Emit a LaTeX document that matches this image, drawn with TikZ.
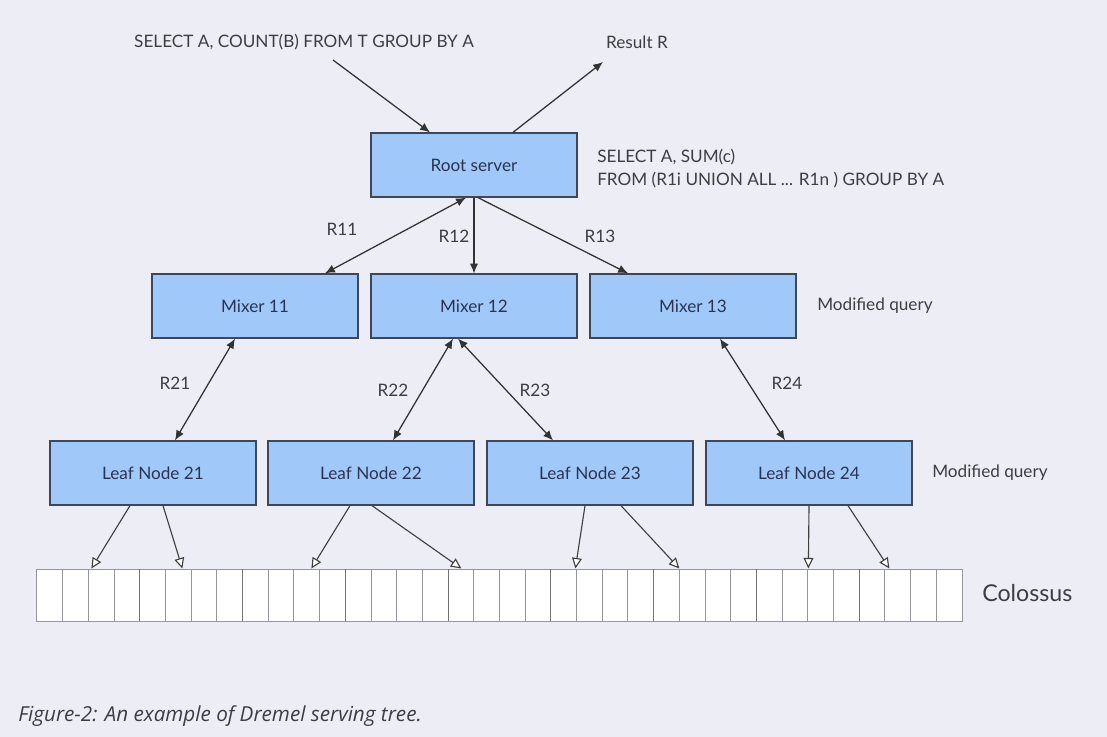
\documentclass[tikz,border=0pt]{standalone}
\usepackage{fontspec}
\setmainfont{Lato}
\newfontfamily\capfont{Open Sans}
\usepackage{tikz}
\usetikzlibrary{arrows.meta,calc}
\usepackage{xcolor}
\definecolor{paper}{RGB}{237,237,245}
\definecolor{boxblue}{RGB}{160,201,250}
\definecolor{boxedge}{RGB}{62,70,88}
\definecolor{boxtext}{RGB}{42,52,82}
\definecolor{labelgray}{RGB}{62,62,66}
\definecolor{cellgray}{RGB}{150,150,156}
\tikzset{%
    server/.style={%
        draw=boxedge, line width=0.9pt, fill=boxblue, text=boxtext,
        minimum width=5.15cm, minimum height=1.6cm, inner sep=0pt,
        font=\fontsize{12.2}{14}\selectfont
    },
    lbl/.style={text=labelgray, font=\fontsize{12.2}{16.3}\selectfont, inner sep=0pt},
    link/.style={draw=black!80, line width=0.9pt, -{Latex[length=7pt,width=6pt]}},
    both/.style={draw=black!80, line width=0.9pt, {Latex[length=7pt,width=6pt]}-{Latex[length=7pt,width=6pt]}},
    scan/.style={draw=black!75, line width=0.8pt, -{Triangle[open,fill=white,length=7.5pt,width=7pt]}}
}

\begin{document}
\begin{tikzpicture}[x=0.025cm, y=-0.025cm]
    \fill[paper] (0,0) rectangle (1107,737);
    \useasboundingbox (0,0) rectangle (1107,737);
%-----------------------------------------------
    \node[server] (root)  at (474,165) {Root server};
    \node[server] (mix11) at (255,306) {Mixer 11};
    \node[server] (mix12) at (474,306) {Mixer 12};
    \node[server] (mix13) at (693,306) {Mixer 13};
    \node[server] (leaf21) at (153,473) {Leaf Node 21};
    \node[server] (leaf22) at (371,473) {Leaf Node 22};
    \node[server] (leaf23) at (590,473) {Leaf Node 23};
    \node[server] (leaf24) at (809,473) {Leaf Node 24};
%-----------------------------------------------
    \node[draw=cellgray, line width=0.7pt, fill=white, minimum width=23.125cm, minimum height=1.3cm, inner sep=0pt] (strip) at (499.5,595) {};
    \foreach \i in {1,...,35}
        \draw[cellgray, line width=0.7pt] (37+\i*25.694,569) -- (37+\i*25.694,621);
    \foreach \i in {4,8,...,32}
        \draw[black!55, line width=0.8pt] (37+\i*25.694,569) -- (37+\i*25.694,621);
%-----------------------------------------------
    \node[lbl] (query) at (304,42) {SELECT A, COUNT(B) FROM T GROUP BY A};
    \node[lbl] (result) at (637,42) {Result R};
    \coordinate (qin) at (333,60);
    \coordinate (rout) at (603,62);
    \draw[link] (qin) -- ($(root.north)+(-44,0)$);
    \draw[link] ($(root.north)+(39,0)$) -- (rout);
    \node[lbl, anchor=west, align=left] (plan) at (597,169) {SELECT A, SUM(c)\\FROM (R1i UNION ALL ... R1n ) GROUP BY A};
    \node[lbl, anchor=west] (mod1) at (817,306) {Modified query};
    \node[lbl, anchor=west] (mod2) at (932,473) {Modified query};
    \node[lbl, anchor=west, font=\fontsize{16.5}{18}\selectfont] (col) at (982,593) {Colossus};
%-----------------------------------------------
    \draw[both] ($(root.south)+(-8,0)$) -- ($(mix11.north)+(70,0)$);
    \draw[link] (root.south) -- (mix12.north);
    \draw[link] ($(root.south)+(4,0)$) -- ($(mix13.north)+(-65,0)$);
    \draw[both] ($(mix11.south)+(-20,0)$) -- ($(leaf21.north)+(22,0)$);
    \draw[both] ($(mix12.south)+(-21,0)$) -- ($(leaf22.north)+(22,0)$);
    \draw[both] ($(mix12.south)+(-16,0)$) -- ($(leaf23.north)+(-37,0)$);
    \draw[both] ($(mix13.south)+(27,0)$) -- ($(leaf24.north)+(-24,0)$);
    \node[lbl] (r11) at (342,229) {R11};
    \node[lbl] (r12) at (454,236) {R12};
    \node[lbl] (r13) at (600,236) {R13};
    \node[lbl] (r21) at (175,383) {R21};
    \node[lbl] (r22) at (393,390) {R22};
    \node[lbl] (r23) at (535,390) {R23};
    \node[lbl] (r24) at (787,383) {R24};
%-----------------------------------------------
    \draw[scan] ($(leaf21.south)+(-23,0)$) -- ($(strip.north west)+(55,0)$);
    \draw[scan] ($(leaf21.south)+(10,0)$) -- ($(strip.north west)+(146,0)$);
    \draw[scan] ($(leaf22.south)+(-21,0)$) -- ($(strip.north west)+(275,0)$);
    \draw[scan] ($(leaf22.south)+(1,0)$) -- ($(strip.north west)+(425,0)$);
    \draw[scan] ($(leaf23.south)+(-5,0)$) -- ($(strip.north west)+(539,0)$);
    \draw[scan] ($(leaf23.south)+(31,0)$) -- ($(strip.north west)+(643,0)$);
    \draw[scan] (leaf24.south) -- ($(strip.north west)+(772,0)$);
    \draw[scan] ($(leaf24.south)+(39,0)$) -- ($(strip.north west)+(853,0)$);
%-----------------------------------------------
    \node[anchor=west, text=labelgray, inner sep=0pt, font=\capfont\fontsize{14.7}{16}\selectfont\itshape] (caption) at (18,716) {Figure-2: An example of Dremel serving tree.};
\end{tikzpicture}
\end{document}
